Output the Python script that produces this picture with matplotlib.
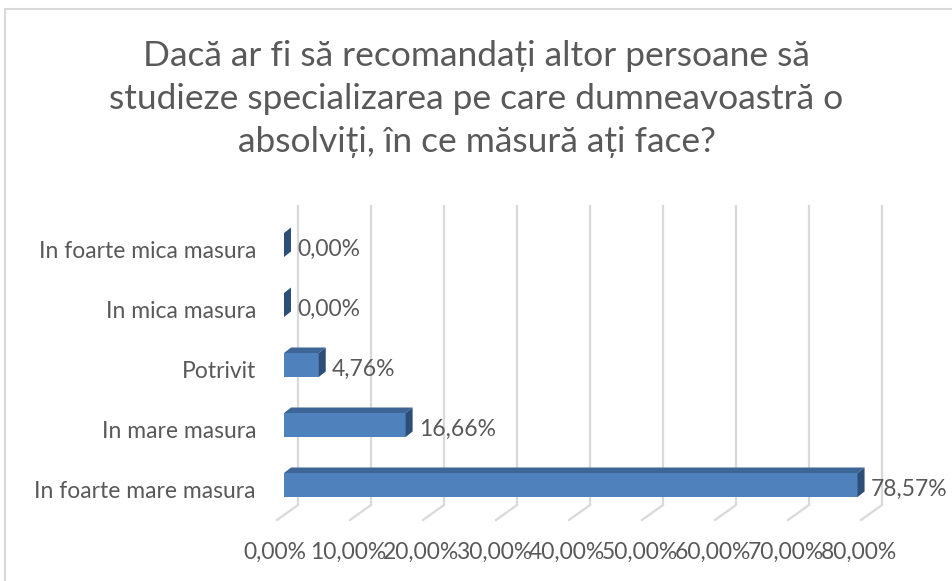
import numpy as np
import matplotlib
matplotlib.use('Agg')
import matplotlib.pyplot as plt
from matplotlib.patches import Polygon, Rectangle

plt.rcParams['font.family'] = ['Lato', 'DejaVu Sans']

categories = ['In foarte mare masura', 'In mare masura', 'Potrivit',
              'In mica masura', 'In foarte mica masura']
values = [78.57, 16.66, 4.76, 0.00, 0.00]
value_labels = ['78,57%', '16,66%', '4,76%', '0,00%', '0,00%']
ticks = [0, 10, 20, 30, 40, 50, 60, 70, 80]
tick_labels = ['0,00%', '10,00%', '20,00%', '30,00%', '40,00%',
               '50,00%', '60,00%', '70,00%', '80,00%']
title = ('Dacă ar fi să recomandați altor persoane să\n'
         'studieze specializarea pe care dumneavoastră o\n'
         'absolviți, în ce măsură ați face?')

W, H = 953, 581
fig = plt.figure(figsize=(W / 100, H / 100), dpi=100)
ax = fig.add_axes([284 / W, (H - 515) / H, 584 / W, 300 / H])
ax.set_xlim(0, 80)
ax.set_ylim(-0.5, 4.5)
ax.axis('off')

txt = '#595959'
grid = '#d9d9d9'
front = '#4f81bd'
top = '#3d6596'
side = '#2d4e77'

# depth offsets (pixels -> data units)
px_x = 80 / 584
px_y = 1 / 60
back_dx, back_dy = 14 * px_x, 10 * px_y
bar_dx, bar_dy = 7 * px_x, 5.5 * px_y
floor_dx, floor_dy = -7 * px_x, -5 * px_y
bar_h = 0.4
fs = 16.5

# back wall gridlines and floor lines
for t, lab in zip(ticks, tick_labels):
    ax.plot([t + back_dx, t + back_dx], [-0.5 + back_dy, 4.5 + back_dy],
            color=grid, lw=1.6, solid_capstyle='butt', zorder=1, clip_on=False)
    ax.plot([t + back_dx, t + floor_dx], [-0.5 + back_dy, -0.5 + floor_dy],
            color=grid, lw=1.6, zorder=1, clip_on=False)
    ax.annotate(lab, (t + floor_dx, -0.5 + floor_dy), xytext=(-2, -32),
                textcoords='offset pixels', ha='center', va='center',
                fontsize=fs, color=txt, annotation_clip=False)

# 3D-ish bars
y = np.arange(len(categories))
ax.barh(y, values, height=bar_h, color=front, zorder=3)
for yi, v, lab, cat in zip(y, values, value_labels, categories):
    y0, y1 = yi - bar_h / 2, yi + bar_h / 2
    ax.add_patch(Polygon([(0, y1), (v, y1), (v + bar_dx, y1 + bar_dy),
                          (bar_dx, y1 + bar_dy)], closed=True,
                         facecolor=top, edgecolor='none', zorder=3))
    ax.add_patch(Polygon([(v, y0), (v, y1), (v + bar_dx, y1 + bar_dy),
                          (v + bar_dx, y0 + bar_dy)], closed=True,
                         facecolor=side, edgecolor='none', zorder=3))
    ax.annotate(lab, (v + bar_dx, yi), xytext=(6, -4),
                textcoords='offset pixels', ha='left', va='center',
                fontsize=fs, color=txt, annotation_clip=False)
    ax.annotate(cat, (0, yi), xytext=(-28, -7), textcoords='offset pixels',
                ha='right', va='center', fontsize=fs, color=txt,
                annotation_clip=False)

fig.text(0.5, (H - 99) / H, title, ha='center', va='center', fontsize=25.5,
         color=txt, linespacing=1.42)

# chart border
fig.add_artist(Rectangle((5 / W, -0.05), 1.2, (H - 9) / H + 0.05,
                         transform=fig.transFigure, fill=False,
                         edgecolor=grid, lw=1.5))

fig.savefig('out.png', dpi=100)
